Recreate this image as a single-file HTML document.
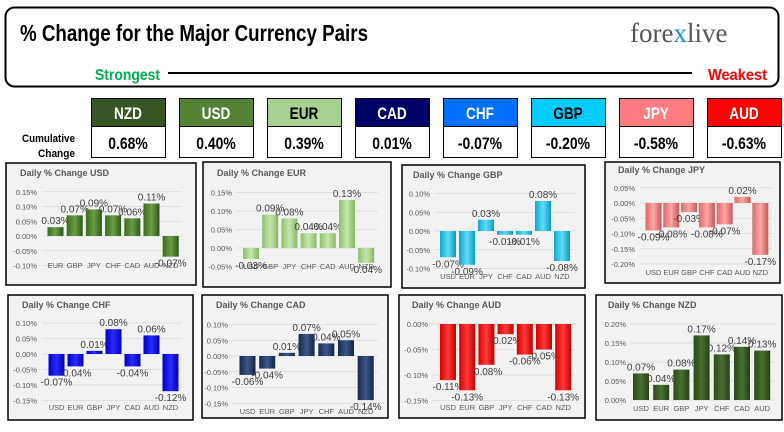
<!DOCTYPE html>
<html><head><meta charset="utf-8"><style>
body{margin:0;width:784px;height:432px;background:#fff;overflow:hidden;font-family:"Liberation Sans",sans-serif}
svg{display:block}
</style></head><body>
<svg id="s" width="784" height="432" viewBox="0 0 784 432" xmlns="http://www.w3.org/2000/svg">
<defs>
<linearGradient id="gUSD" x1="0" x2="1"><stop offset="0" stop-color="#3c6b22"/><stop offset="0.5" stop-color="#6a9e45"/><stop offset="1" stop-color="#2f561a"/></linearGradient>
<linearGradient id="gEUR" x1="0" x2="1"><stop offset="0" stop-color="#8fbf6c"/><stop offset="0.5" stop-color="#c6e6ad"/><stop offset="1" stop-color="#86b864"/></linearGradient>
<linearGradient id="gGBP" x1="0" x2="1"><stop offset="0" stop-color="#12a6cc"/><stop offset="0.5" stop-color="#5fdcf8"/><stop offset="1" stop-color="#0f9ac0"/></linearGradient>
<linearGradient id="gJPY" x1="0" x2="1"><stop offset="0" stop-color="#d86a6a"/><stop offset="0.5" stop-color="#ffa5a5"/><stop offset="1" stop-color="#c45a5a"/></linearGradient>
<linearGradient id="gCHF" x1="0" x2="1"><stop offset="0" stop-color="#0000c8"/><stop offset="0.5" stop-color="#2a2aff"/><stop offset="1" stop-color="#0000b0"/></linearGradient>
<linearGradient id="gCAD" x1="0" x2="1"><stop offset="0" stop-color="#17294c"/><stop offset="0.5" stop-color="#3a5788"/><stop offset="1" stop-color="#142443"/></linearGradient>
<linearGradient id="gAUD" x1="0" x2="1"><stop offset="0" stop-color="#d80000"/><stop offset="0.5" stop-color="#ff3a3a"/><stop offset="1" stop-color="#c00000"/></linearGradient>
<linearGradient id="gNZD" x1="0" x2="1"><stop offset="0" stop-color="#2b4a1a"/><stop offset="0.5" stop-color="#4a7030"/><stop offset="1" stop-color="#263f17"/></linearGradient>
</defs>
<rect x="5.5" y="7.5" width="773" height="79" rx="9" fill="#fff" stroke="#000" stroke-width="2"/>
<text x="20" y="41" font-size="23" font-weight="bold" fill="#000" textLength="348" lengthAdjust="spacingAndGlyphs">% Change for the Major Currency Pairs</text>
<text x="630" y="42" font-family="Liberation Serif,serif" font-size="27" fill="#555">fore<tspan fill="#1a8fd8">x</tspan>live</text>
<text x="95" y="80" font-size="16" font-weight="bold" fill="#00b050" textLength="65" lengthAdjust="spacingAndGlyphs">Strongest</text>
<line x1="168" y1="73" x2="692" y2="73" stroke="#000" stroke-width="2"/>
<text x="708" y="80" font-size="16" font-weight="bold" fill="#ff0000" textLength="59" lengthAdjust="spacingAndGlyphs">Weakest</text>
<text x="22" y="142" font-size="11" font-weight="bold" fill="#000" textLength="53" lengthAdjust="spacingAndGlyphs">Cumulative</text>
<text x="38" y="157" font-size="11" font-weight="bold" fill="#000" textLength="37" lengthAdjust="spacingAndGlyphs">Change</text>
<g id="top"></g>
<g id="panels"></g>
</svg>
<script>
const topCurrencies=["NZD","USD","EUR","CAD","CHF","GBP","JPY","AUD"];
const topValues=["0.68%","0.40%","0.39%","0.01%","-0.07%","-0.20%","-0.58%","-0.63%"];
const topColors=["#375623","#548235","#a9d08e","#000066","#0070ff","#00ccff","#ff7c80","#ff0000"];
const topTextColors=["#fff","#fff","#000","#fff","#fff","#000","#fff","#fff"];

const usdCats=["EUR","GBP","JPY","CHF","CAD","AUD","NZD"];
const usdVals=[0.03,0.07,0.09,0.07,0.06,0.11,-0.07];
const eurCats=["USD","GBP","JPY","CHF","CAD","AUD","NZD"];
const eurVals=[-0.03,0.09,0.08,0.04,0.04,0.13,-0.04];
const gbpCats=["USD","EUR","JPY","CHF","CAD","AUD","NZD"];
const gbpVals=[-0.07,-0.09,0.03,-0.01,-0.01,0.08,-0.08];
const jpyCats=["USD","EUR","GBP","CHF","CAD","AUD","NZD"];
const jpyVals=[-0.09,-0.08,-0.03,-0.08,-0.07,0.02,-0.17];
const chfCats=["USD","EUR","GBP","JPY","CAD","AUD","NZD"];
const chfVals=[-0.07,-0.04,0.01,0.08,-0.04,0.06,-0.12];
const cadCats=["USD","EUR","GBP","JPY","CHF","AUD","NZD"];
const cadVals=[-0.06,-0.04,0.01,0.07,0.04,0.05,-0.14];
const audCats=["USD","EUR","GBP","JPY","CHF","CAD","NZD"];
const audVals=[-0.11,-0.13,-0.08,-0.02,-0.06,-0.05,-0.13];
const nzdCats=["USD","EUR","GBP","JPY","CHF","CAD","AUD"];
const nzdVals=[0.07,0.04,0.08,0.17,0.12,0.14,0.13];
const usdTicks=[-0.10,-0.05,0,0.05,0.10,0.15];
const eurTicks=[-0.05,0,0.05,0.10,0.15];
const gbpTicks=[-0.10,-0.05,0,0.05,0.10];
const jpyTicks=[-0.20,-0.15,-0.10,-0.05,0,0.05];
const chfTicks=[-0.15,-0.10,-0.05,0,0.05,0.10];
const cadTicks=[-0.15,-0.10,-0.05,0,0.05,0.10];
const audTicks=[-0.15,-0.10,-0.05,0];
const nzdTicks=[0,0.05,0.10,0.15,0.20];

const NS="http://www.w3.org/2000/svg";
function mk(tag,attrs,parent){const e=document.createElementNS(NS,tag);for(const k in attrs)e.setAttribute(k,attrs[k]);parent.appendChild(e);return e;}

const topG=document.getElementById('top');
topCurrencies.forEach((c,i)=>{
  const x=91+i*88;
  const h=mk('rect',{x:x+0.5,y:98.5,width:74,height:28,fill:topColors[i],stroke:'#000','stroke-width':1},topG);
  
  
  const v=mk('rect',{x:x+0.5,y:126.5,width:74,height:31,fill:'#fff',stroke:'#000','stroke-width':1},topG);
  
  
  const t=mk('text',{x:x+37,y:119,'text-anchor':'middle','font-size':17,'font-weight':'bold',fill:topTextColors[i],transform:'translate('+(x+37)+',0) scale(0.8,1) translate('+(-(x+37))+',0)'},topG);
  t.textContent=c;
  
  
  const tv=mk('text',{x:x+37,y:149,'text-anchor':'middle','font-size':17,'font-weight':'bold',fill:'#000',transform:'translate('+(x+37)+',0) scale(0.82,1) translate('+(-(x+37))+',0)'},topG);
  tv.textContent=topValues[i];
  
  
});

const panels=[
 {name:'USD',cats:usdCats,vals:usdVals,ticks:usdTicks,box:[6,163,190,122],tr:37,gx:[42,182],c0:55.5,step:19.2,zero:236,per:295,xl:268,tt:[20,176]},
 {name:'EUR',cats:eurCats,vals:eurVals,ticks:eurTicks,box:[203,162,188,125],tr:232,gx:[236,378],c0:251,step:19.2,zero:248,per:370,xl:269,tt:[217,176]},
 {name:'GBP',cats:gbpCats,vals:gbpVals,ticks:gbpTicks,box:[402,165,183,123],tr:430,gx:[434,575],c0:448,step:19,zero:231,per:375,xl:279,tt:[413,178]},
 {name:'JPY',cats:jpyCats,vals:jpyVals,ticks:jpyTicks,box:[605,162,175,121],tr:635,gx:[640,772],c0:653.5,step:17.8,zero:203,per:305,xl:275,tt:[618,173]},
 {name:'CHF',cats:chfCats,vals:chfVals,ticks:chfTicks,box:[8,295,185,125],tr:37,gx:[42,182],c0:56.5,step:19,zero:354,per:310,xl:410,tt:[22,308]},
 {name:'CAD',cats:cadCats,vals:cadVals,ticks:cadTicks,box:[202,295,186,123],tr:228,gx:[232,378],c0:247.5,step:19.7,zero:356,per:315,xl:414,tt:[216,308]},
 {name:'AUD',cats:audCats,vals:audVals,ticks:audTicks,box:[399,295,186,123],tr:428,gx:[432,575],c0:448,step:19.2,zero:324,per:510,xl:410,tt:[412,308]},
 {name:'NZD',cats:nzdCats,vals:nzdVals,ticks:nzdTicks,box:[596,295,186,125],tr:626,gx:[630,775],c0:641,step:20.2,zero:400,per:380,xl:411,tt:[608,308]}
];
const pg=document.getElementById('panels');
panels.forEach(p=>{
  const n=p.name.toLowerCase();
  const g=mk('g',{},pg);
  
  
  const b=p.box;
  const bg=mk('rect',{x:b[0],y:b[1],width:b[2],height:b[3],fill:'#f2f2f2',stroke:'#000','stroke-width':1.5},g);
  
  
  const ti=mk('text',{x:p.tt[0],y:p.tt[1],'font-size':9,'font-weight':'bold',fill:'#595959'},g);
  ti.textContent='Daily % Change '+p.name;
  
  
  const y=v=>p.zero-v*p.per;
  p.ticks.forEach(t=>{
    const ln=mk('line',{x1:p.gx[0],x2:p.gx[1],y1:y(t),y2:y(t),stroke:'#d9d9d9','stroke-width':0.8},g);
    
    
    const tl=mk('text',{x:p.tr,y:y(t)+3,'text-anchor':'end','font-size':7.5,fill:'#595959'},g);
    tl.textContent=t.toFixed(2)+'%';
    
    
  });
  p.cats.forEach((c,i)=>{
    const cx=p.c0+i*p.step, v=p.vals[i];
    const y1=Math.min(y(v),y(0)), h=Math.max(Math.abs(y(v)-y(0)),1);
    const r=mk('rect',{x:cx-8,y:y1,width:16,height:h,fill:'url(#g'+p.name+')'},g);
    
    
    const xl=mk('text',{x:cx,y:p.xl,'text-anchor':'middle','font-size':7.5,fill:'#595959'},g);
    xl.textContent=c;
    
    
    const vl=mk('text',{x:cx,y:v>=0?y(v)-3:y(v)+10,'text-anchor':'middle','font-size':10,fill:'#404040'},g);
    vl.textContent=v.toFixed(2)+'%';
    
    
  });
});
</script>
</body></html>
